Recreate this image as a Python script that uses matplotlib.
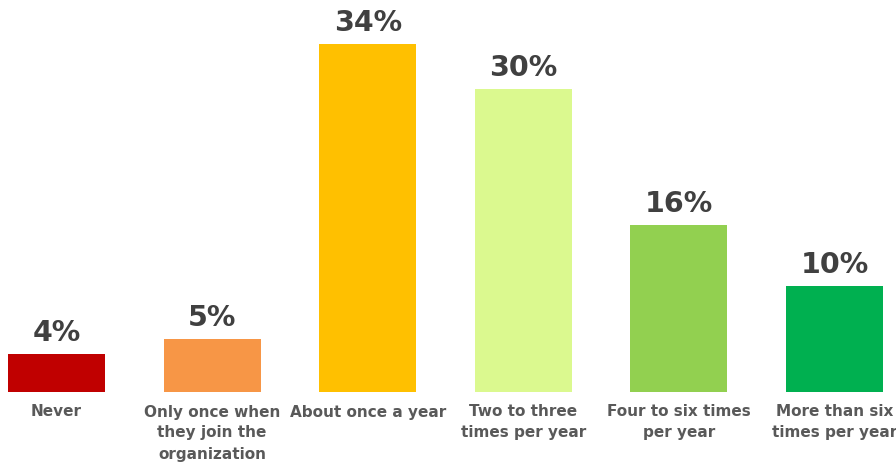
import matplotlib
matplotlib.use("Agg")
import matplotlib.pyplot as plt

categories = ["Never", "Only once when\nthey join the\norganization", "About once a year",
              "Two to three\ntimes per year", "Four to six times\nper year", "More than six\ntimes per year"]
values = [3.7, 5.2, 34.0, 29.6, 16.3, 10.4]
value_labels = ["4%", "5%", "34%", "30%", "16%", "10%"]
colors = ["#C00000", "#F79646", "#FFC000", "#DBF98F", "#92D050", "#00B050"]

fig = plt.figure(figsize=(8.96, 4.67), dpi=100)
ax = fig.add_axes([0, 75/467, 1, 392/467])
x = list(range(len(categories)))
bars = ax.bar(x, values, width=0.623, color=colors)
ax.set_xlim(-0.363, 5.395)
ax.set_ylim(0, 38.3)
for xi, v, lab in zip(x, values, value_labels):
    ax.annotate(lab, (xi, v), xytext=(0, 5), textcoords="offset points",
                ha="center", va="bottom", fontsize=20.5, fontweight="bold", color="#404040",
                family="DejaVu Sans")
for xi, cat in zip(x, categories):
    ax.annotate(cat, (xi, 0), xytext=(0, -9), textcoords="offset points",
                ha="center", va="top", fontsize=11, fontweight="bold", color="#595959",
                linespacing=1.5, family="DejaVu Sans", annotation_clip=False)
ax.axis("off")
fig.savefig("out.png", dpi=100)
